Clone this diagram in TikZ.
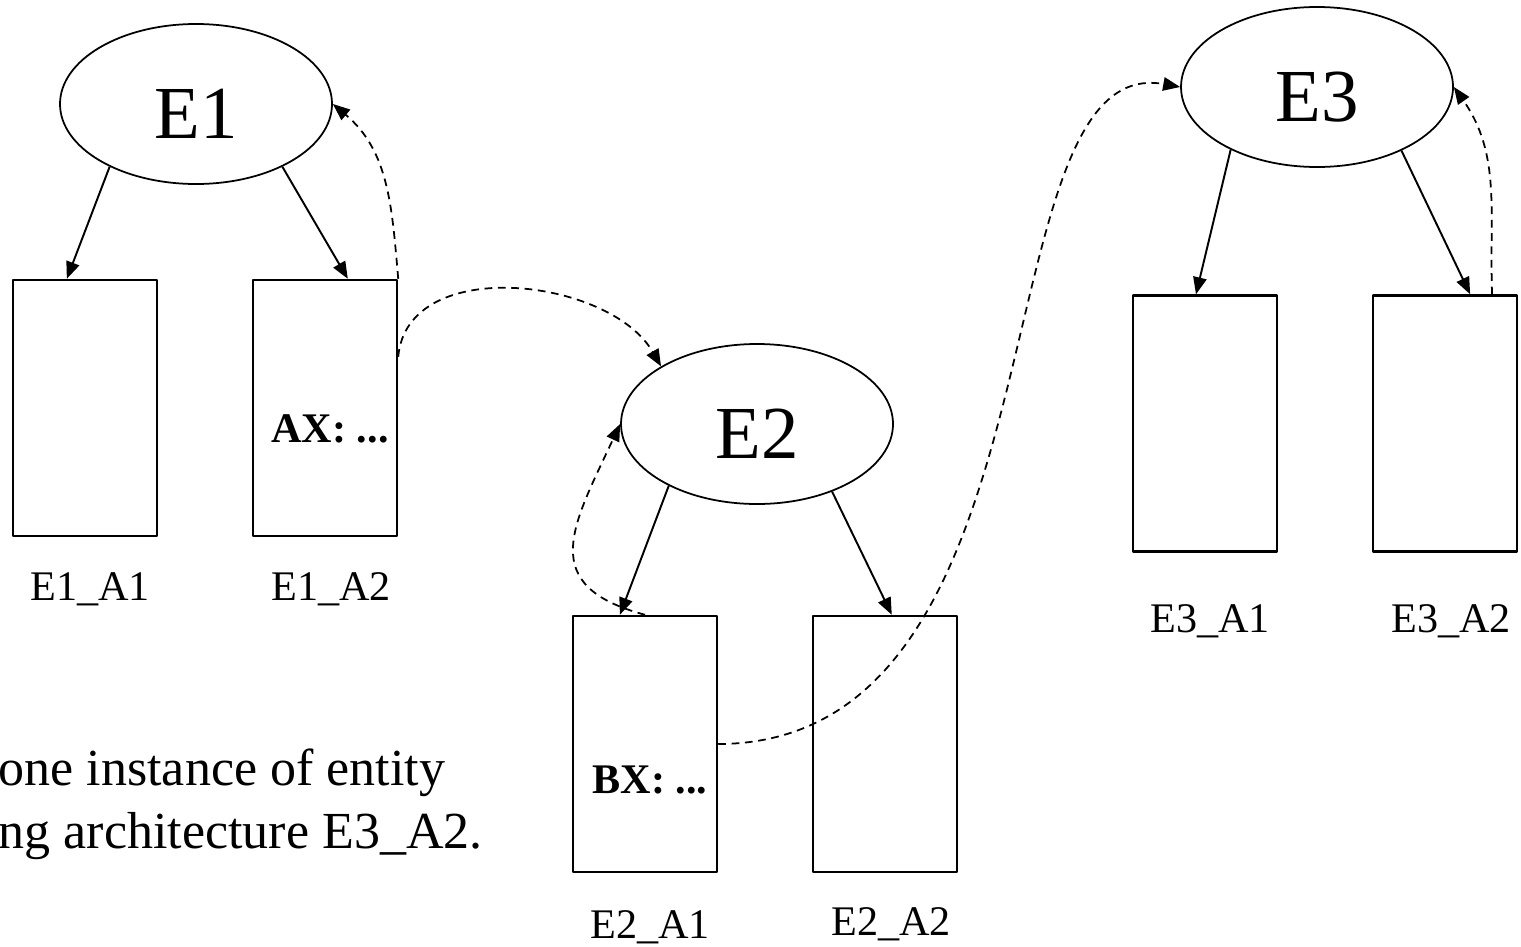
\documentclass[tikz,border=0pt]{standalone}
\usepackage{fontspec}
\setmainfont{Liberation Serif}
\usetikzlibrary{shapes.geometric,arrows.meta}
\begin{document}
\begin{tikzpicture}[x=0.1mm,y=-0.1mm,>={Triangle[length=1.7mm,width=1.35mm]},line join=round,
	ent/.style={draw,ellipse,line width=0.5pt,minimum width=27.2mm,minimum height=16mm,inner sep=0pt,
		font=\fontsize{21.3}{25}\selectfont,text height=19.5pt,text depth=0pt},
	arch/.style={draw,rectangle,line width=0.7pt,minimum width=14.4mm,minimum height=25.6mm,inner sep=0pt},
	lab/.style={anchor=base,inner sep=0pt,font=\fontsize{12}{14}\selectfont},
	code/.style={inner sep=0pt,font=\fontsize{12}{14}\selectfont\bfseries},
	note/.style={anchor=base west,inner sep=0pt,font=\fontsize{14.8}{18}\selectfont},
	link/.style={->,line width=0.55pt},
	call/.style={->,line width=0.5pt,dash pattern=on 2.2pt off 1.6pt}]
	\clip (0,0) rectangle (1521,946);
	% entities
	\node[ent] (e1) at (196,104) {E1};
	\node[ent] (e2) at (757,424) {E2};
	\node[ent] (e3) at (1317,87) {E3};
	% architectures
	\node[arch] (e1a1) at (85,408) {};
	\node[arch] (e1a2) at (325,408) {};
	\node[arch] (e2a1) at (645,744) {};
	\node[arch] (e2a2) at (885,744) {};
	\node[arch] (e3a1) at (1205,423.5) {};
	\node[arch] (e3a2) at (1445,423.5) {};
	\node[code] (ax) at (330,429) {AX: ...};
	\node[code] (bx) at (650,780) {BX: ...};
	\node[lab] (l11) at (90,600) {E1\_A1};
	\node[lab] (l12) at (331,600) {E1\_A2};
	\node[lab] (l21) at (650,938) {E2\_A1};
	\node[lab] (l22) at (891,935) {E2\_A2};
	\node[lab] (l31) at (1210,632) {E3\_A1};
	\node[lab] (l32) at (1451,632) {E3\_A2};
	\node[note] (note1) at (-2,785) {one instance of entity};
	\node[note] (note2) at (-2,848) {ng architecture E3\_A2.};
	\draw[link] (e1.216) -- (e1a1.98);
	\draw[link] (e1.324) -- (e1a2.80);
	\draw[link] (e2.215) -- (e2a1.101);
	\draw[link] (e2.318) -- (e2a2.87);
	\draw[link] (e3.216) -- (e3a1.94);
	\draw[link] (e3.323) -- (e3a2.79);
	\draw[call] (e1a2.north east) to[out=95,in=-40] (e1.east);
	\draw[call] (e1a2.35) to[out=85,in=120] (e2.149);
	\draw[call] (e2a1.north) to[out=165,in=-115,looseness=1.5] (e2.west);
	\draw[call] (e2a1.east) .. controls (1075,743) and (975,50) .. (e3.west);
	\draw[call] (e3a2.70) to[out=92,in=-55] (e3.east);
\end{tikzpicture}
\end{document}
